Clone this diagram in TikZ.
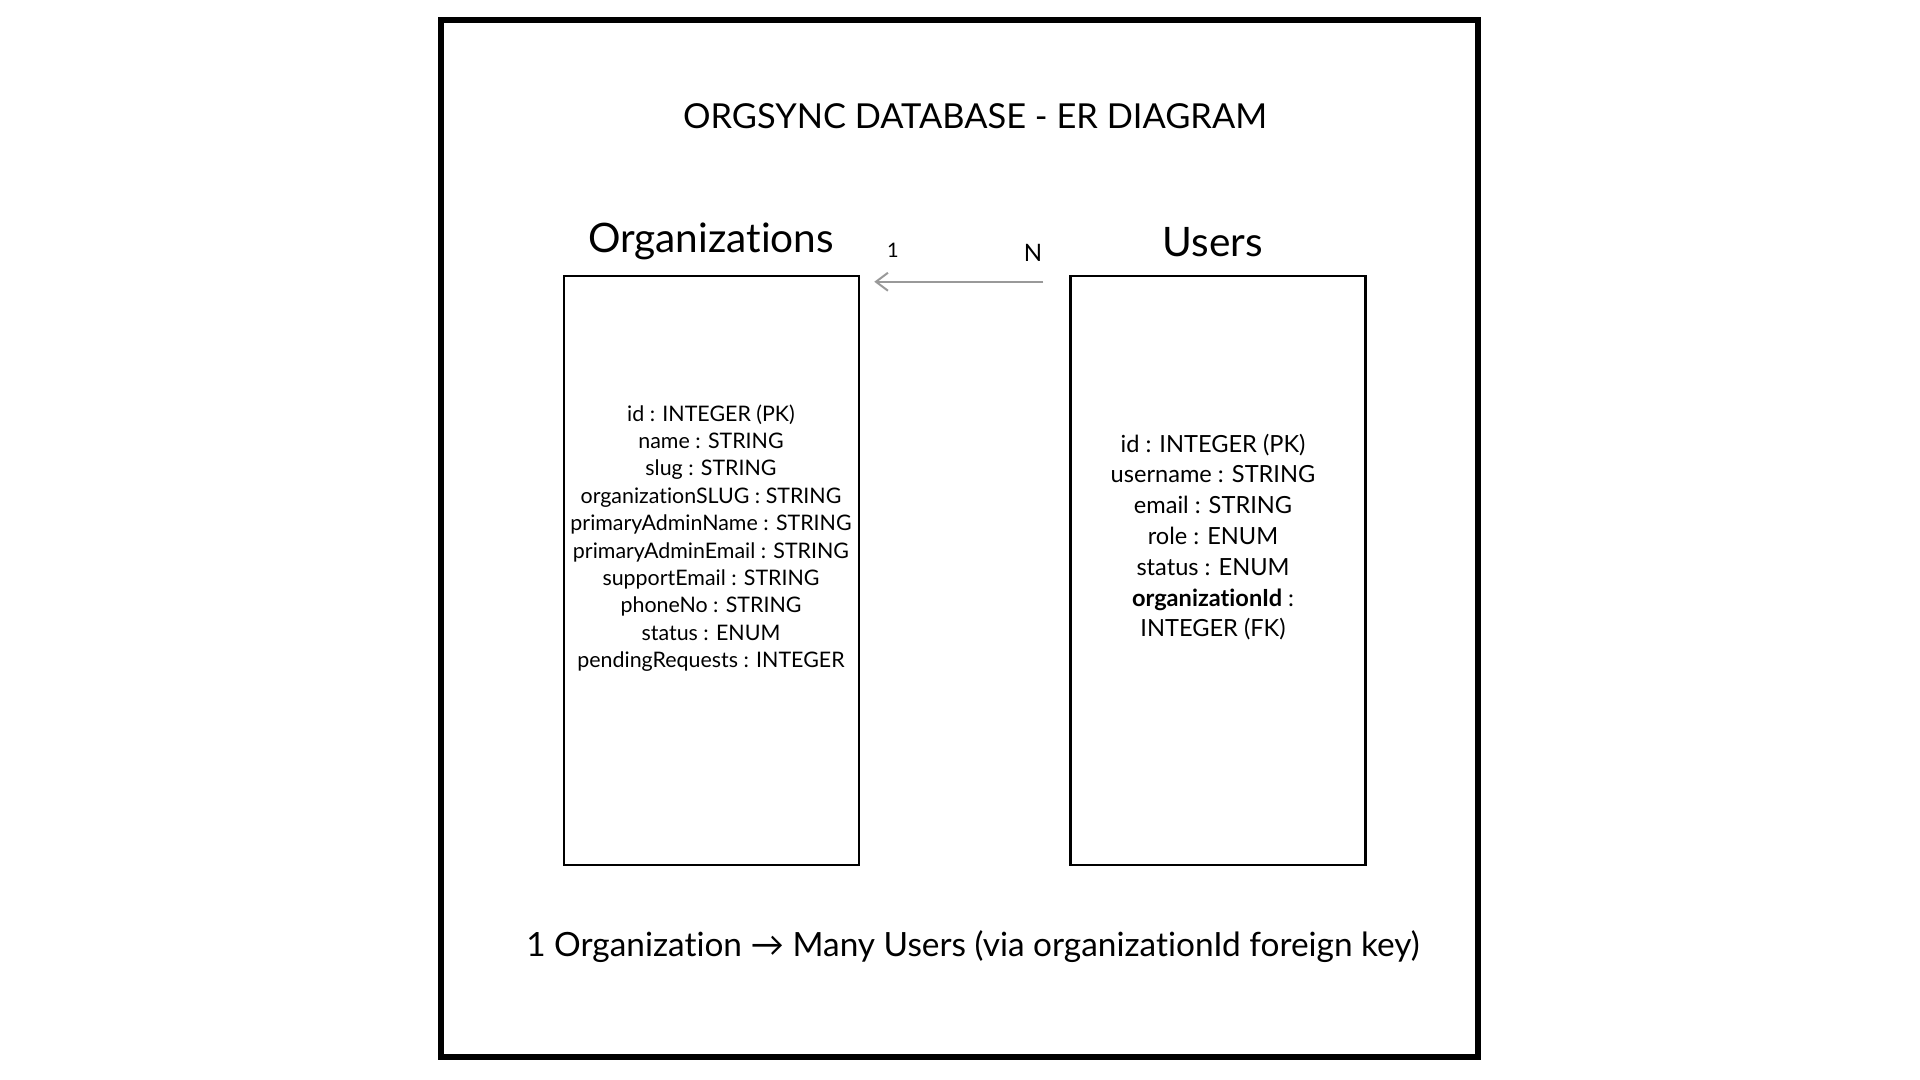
\documentclass[tikz,border=0pt]{standalone}
\usepackage{fontspec}
\setmainfont[Ligatures={NoCommon,NoRequired}]{Lato}
\usepackage{tikz}
\usetikzlibrary{arrows.meta}

\begin{document}
\begin{tikzpicture}[x=0.5pt, y=-0.5pt,
    entity/.style={draw, line width=1.25pt, minimum width=147.5pt, minimum height=294.5pt, inner sep=0pt},
    heading/.style={font=\fontsize{20.3}{23}\selectfont, inner sep=0pt},
    attrs/.style={align=center, inner sep=0pt},
    card/.style={inner sep=0pt}]
    \useasboundingbox (0, 0) rectangle (1920, 1080);
    \draw[line width=3pt] (441, 20) rectangle (1478, 1057);
    \node[font=\fontsize{17.2}{20}\selectfont, inner sep=0pt] (title) at (975, 116) {ORGSYNC DATABASE - ER DIAGRAM};
    \node[entity] (orgs) at (711.5, 570.5) {};
    \node[entity] (users) at (1218, 570.5) {};
    \node[heading] (orgshead) at (711, 241) {Organizations};
    \node[heading] (usershead) at (1213, 242) {Users};
    \node[attrs, font=\fontsize{10.7}{13.7}\selectfont] (orgattrs) at (711, 538) {
        id : INTEGER (PK)\\
        name : STRING\\
        slug : STRING\\
        organizationSLUG : STRING\\
        primaryAdminName : STRING\\
        primaryAdminEmail : STRING\\
        supportEmail : STRING\\
        phoneNo : STRING\\
        status : ENUM\\
        pendingRequests : INTEGER};
    \node[attrs, font=\fontsize{11.8}{15.4}\selectfont] (userattrs) at (1213, 537) {
        id : INTEGER (PK)\\
        username : STRING\\
        email : STRING\\
        role : ENUM\\
        status : ENUM\\
        \textbf{organizationId} :\\
        INTEGER (FK)};
    \draw[line width=1pt, draw=black!40, -{Straight Barb[length=6pt, width=9pt]},
        shorten <=13pt, shorten >=7pt]
        ([yshift=-3.5pt]users.north west) -- ([yshift=-3.5pt]orgs.north east);
    \node[card, font=\fontsize{10}{12}\selectfont] (one) at (893, 250) {1};
    \node[card, font=\fontsize{12}{14}\selectfont] (many) at (1033, 253) {N};
    \node[font=\fontsize{16.7}{19}\selectfont, inner sep=0pt] (note) at (973, 947)
        {1 Organization → Many Users (via organizationId foreign key)};
\end{tikzpicture}
\end{document}
